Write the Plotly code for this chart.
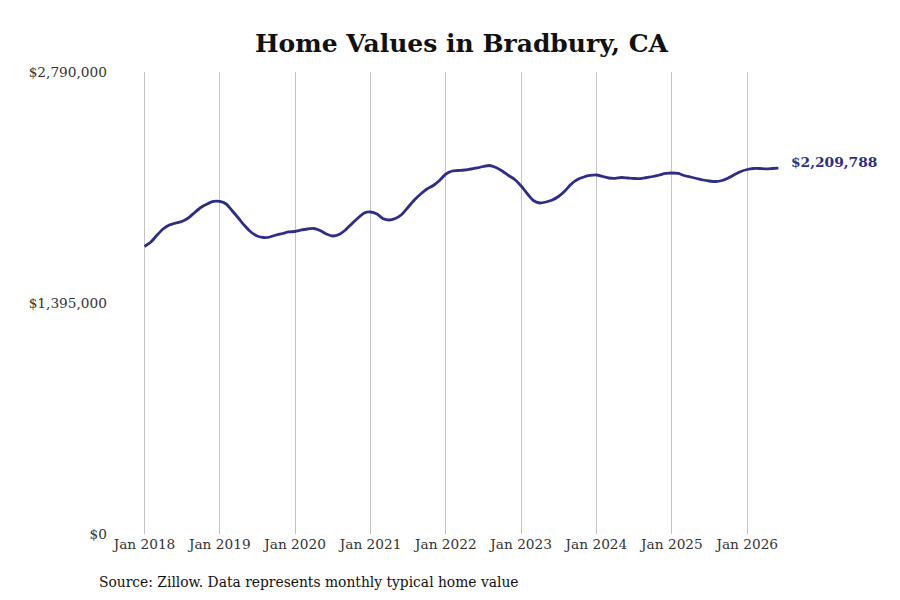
import plotly.graph_objects as go
import pandas as pd

dates = pd.date_range("2018-01-01", periods=102, freq="MS")
values = [
    1736000, 1763400, 1802600, 1841900, 1866100, 1878100, 1887200, 1908300, 1941500, 1971700, 1992900, 2008000,
    2008000, 1992900, 1953600, 1908300, 1863000, 1823800, 1799600, 1790600, 1793600, 1805700, 1814700, 1823800,
    1826800, 1835900, 1841900, 1844900, 1832800, 1811700, 1799600, 1808700, 1835900, 1872100, 1908300, 1938500,
    1944600, 1932500, 1905300, 1896200, 1905300, 1929500, 1971700, 2017000, 2053300, 2083500, 2104600, 2134800,
    2174000, 2192200, 2195200, 2198200, 2204200, 2210300, 2219300, 2225400, 2213300, 2192200, 2165000, 2140800,
    2101600, 2053300, 2014000, 1998900, 2004900, 2017000, 2038200, 2071400, 2113700, 2140800, 2155900, 2165000,
    2168000, 2158900, 2149900, 2148100, 2152900, 2149900, 2146900, 2145700, 2152900, 2158900, 2168000, 2177100,
    2180100, 2177100, 2165000, 2155900, 2146900, 2137800, 2131800, 2128700, 2134800, 2149900, 2171000, 2189100,
    2201200, 2207300, 2207300, 2205400, 2207300, 2209788,
]
tick_dates = pd.date_range("2018-01-01", "2026-01-01", freq="YS")
tick_labels = [f"Jan {d.year}" for d in tick_dates]
y_ticks = [0, 1395000, 2790000]
y_tick_labels = ["$0", "$1,395,000", "$2,790,000"]
title = "Home Values in Bradbury, CA"
source = "Source: Zillow. Data represents monthly typical home value"
end_label = "$2,209,788"

line_color = "#2E2D88"
font = "DejaVu Serif"

W, H = 900, 600
L, R, T, B = 100, 30, 64, 74

fig = go.Figure()
fig.add_trace(go.Scatter(
    x=dates, y=values, mode="lines",
    line=dict(color=line_color, width=2.8, shape="spline", smoothing=0.6),
    hoverinfo="skip", showlegend=False,
))

fig.add_annotation(
    x=dates[-1], y=values[-1], text=f"<b>{end_label}</b>",
    showarrow=False, xanchor="left", yanchor="middle", xshift=11, yshift=6,
    font=dict(family=font, size=13.8, color=line_color),
)
fig.add_annotation(
    x=(89 - L) / (W - L - R), y=(H - B - 574) / (H - T - B),
    xref="paper", yref="paper", text=source, showarrow=False,
    xanchor="left", yanchor="middle", font=dict(family=font, size=13.85, color="#111111"),
)

fig.update_layout(
    width=W, height=H,
    margin=dict(l=L, r=R, t=T, b=B),
    paper_bgcolor="white", plot_bgcolor="white",
    title=dict(text=f"<b>{title}</b>", x=0.5039, xanchor="center", y=1 - 35 / H, yanchor="middle",
               font=dict(family=font, size=25, color="#111111")),
    font=dict(family=font, size=14, color="#333333"),
    xaxis=dict(
        type="date",
        range=["2017-07-08", "2027-09-27"],
        tickvals=tick_dates, ticktext=tick_labels,
        showgrid=True, gridcolor="#C4C4C4", gridwidth=1,
        zeroline=False, showline=False, ticks="",
        tickfont=dict(family=font, size=13.7, color="#333333"),
    ),
    yaxis=dict(
        range=[0, 2790000],
        tickvals=y_ticks, ticktext=y_tick_labels,
        showgrid=False, zeroline=False, showline=False, ticks="",
        tickfont=dict(family=font, size=13.7, color="#333333"),
    ),
)

fig.write_html("out.html")
